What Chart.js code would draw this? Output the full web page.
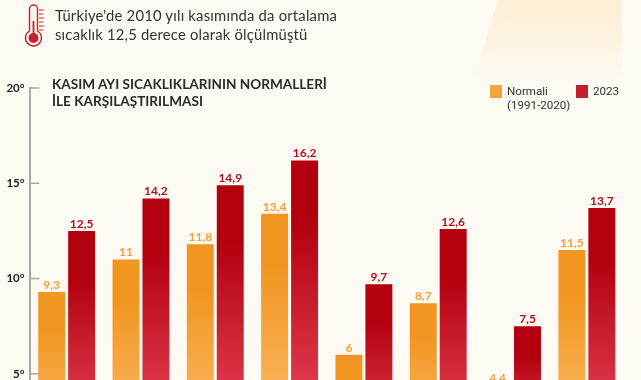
<!DOCTYPE html>
<html>
<head>
<meta charset="utf-8">
<script src="https://cdn.jsdelivr.net/npm/chart.js@4"></script>
<style>
  html, body { margin: 0; padding: 0; width: 641px; height: 380px; overflow: hidden; background: #fdf9f3; }
  #glow { position: absolute; left: 470px; top: 0; width: 152px; height: 90px;
          background: linear-gradient(180deg, #fdeed4 0%, #fdf3e2 45%, #fdf9f3 85%);
          clip-path: polygon(28px 0, 152px 0, 152px 90px, 0 90px); }
  #chartBox { position: absolute; left: 0; top: 0; width: 641px; height: 481px; }
  .head { position: absolute; left: 55px; top: 6px; font: 14.8px/19px Lato, sans-serif; color: #333; letter-spacing: .2px; white-space: nowrap; }
  .title { position: absolute; left: 52px; top: 76px; font: bold 13.6px/17px Lato, sans-serif; color: #2b2b2b; white-space: nowrap; }
  .leg { position: absolute; top: 84px; font: 11.6px/14px Roboto, sans-serif; color: #333; white-space: nowrap; }
  .swatch { position: absolute; top: 85px; width: 12px; height: 13px; }
  svg { position: absolute; left: 24px; top: 4px; }
</style>
</head>
<body>
<div id="glow"></div>
<div id="chartBox"><canvas id="barChart" width="641" height="481"></canvas></div>

<svg width="22" height="44" viewBox="0 0 22 44">
  <path d="M5.5 5 a4 4 0 0 1 8 0 V27 a8 8 0 1 1 -8 0 Z" fill="none" stroke="#c8202c" stroke-width="1.4"/>
  <rect x="8.6" y="17" width="1.8" height="14" fill="#c8202c"/>
  <circle cx="9.5" cy="34" r="5" fill="#c8202c"/>
  <path d="M15 6h5M15 10h4M15 14h5M15 18h4M15 22h5M15 26h4" stroke="#c8202c" stroke-width="1"/>
</svg>
<div class="head">Türkiye'de 2010 yılı kasımında da ortalama<br>sıcaklık 12,5 derece olarak ölçülmüştü</div>
<div class="title">KASIM AYI SICAKLIKLARININ NORMALLERİ<br>İLE KARŞILAŞTIRILMASI</div>

<div class="swatch" style="left:490px;background:#f5a33c"></div>
<div class="leg" style="left:507px">Normali<br>(1991-2020)</div>
<div class="swatch" style="left:576px;background:#c11f2c"></div>
<div class="leg" style="left:593px">2023</div>

<script>
// one slot per group of bars, the source picture has no category names visible
const categories = ['1', '2', '3', '4', '5', '6', '7', '8'];
const normalValues = [9.3, 11, 11.8, 13.4, 6, 8.7, 4.4, 11.5];
const values2023 = [12.5, 14.2, 14.9, 16.2, 9.7, 12.6, 7.5, 13.7];

const orangeTop = '#f19620';
const orangeBottom = '#ffc27a';
const redTop = '#b3000f';
const redBottom = '#f4566a';

let barGradient = function (context, top, bottom) {
  const chart = context.chart;
  const y = chart.scales.y;
  if (!y || context.raw === undefined) return top;
  const from = y.getPixelForValue(context.raw);
  const to = y.getPixelForValue(0);
  // scales have no size yet on the first pass
  if (!Number.isFinite(from) || !Number.isFinite(to)) return top;
  const grad = chart.ctx.createLinearGradient(0, from, 0, to);
  grad.addColorStop(0, top);
  grad.addColorStop(0.2, top);
  grad.addColorStop(1, bottom);
  return grad;
};

// value labels above the bars and small tick marks to the right of the axis line
let extras = {
  id: 'extras',
  afterDatasetsDraw(chart) {
    const ctx = chart.ctx;
    const y = chart.scales.y;
    ctx.save();
    ctx.strokeStyle = '#a9a9a9';
    ctx.lineWidth = 1.5;
    y.ticks.forEach(function (t) {
      const py = y.getPixelForValue(t.value);
      ctx.beginPath();
      ctx.moveTo(y.right, py);
      ctx.lineTo(y.right + 10, py);
      ctx.stroke();
    });
    ctx.font = 'bold 12px Lato, sans-serif';
    ctx.textAlign = 'center';
    ctx.textBaseline = 'bottom';
    chart.data.datasets.forEach(function (ds, i) {
      ctx.fillStyle = i === 0 ? '#f2a03a' : '#b2101e';
      chart.getDatasetMeta(i).data.forEach(function (bar, j) {
        ctx.fillText(String(ds.data[j]).replace('.', ','), bar.x, bar.y - 1);
      });
    });
    ctx.restore();
  }
};

new Chart(document.getElementById('barChart'), {
  type: 'bar',
  data: {
    labels: categories,
    datasets: [
      { label: 'Normali (1991-2020)', data: normalValues, backgroundColor: (c) => barGradient(c, orangeTop, orangeBottom) },
      { label: '2023', data: values2023, backgroundColor: (c) => barGradient(c, redTop, redBottom) }
    ]
  },
  plugins: [extras],
  options: {
    responsive: false,
    animation: false,
    categoryPercentage: 0.806,
    barPercentage: 0.9,
    layout: { padding: { top: 88, right: 17, bottom: 1.5, left: 0 } },
    plugins: { legend: { display: false }, tooltip: { enabled: false } },
    scales: {
      x: { display: false },
      y: {
        min: 0,
        max: 20,
        afterFit: function (scale) { scale.width = 29.5; },
        border: { color: '#a9a9a9', width: 2 },
        grid: { display: false, drawTicks: false },
        ticks: {
          stepSize: 5,
          padding: 5,
          color: '#222',
          font: { family: 'Lato, sans-serif', size: 11.5, weight: 'bold' },
          callback: (v) => v + '°'
        }
      }
    }
  }
});
</script>
</body>
</html>
